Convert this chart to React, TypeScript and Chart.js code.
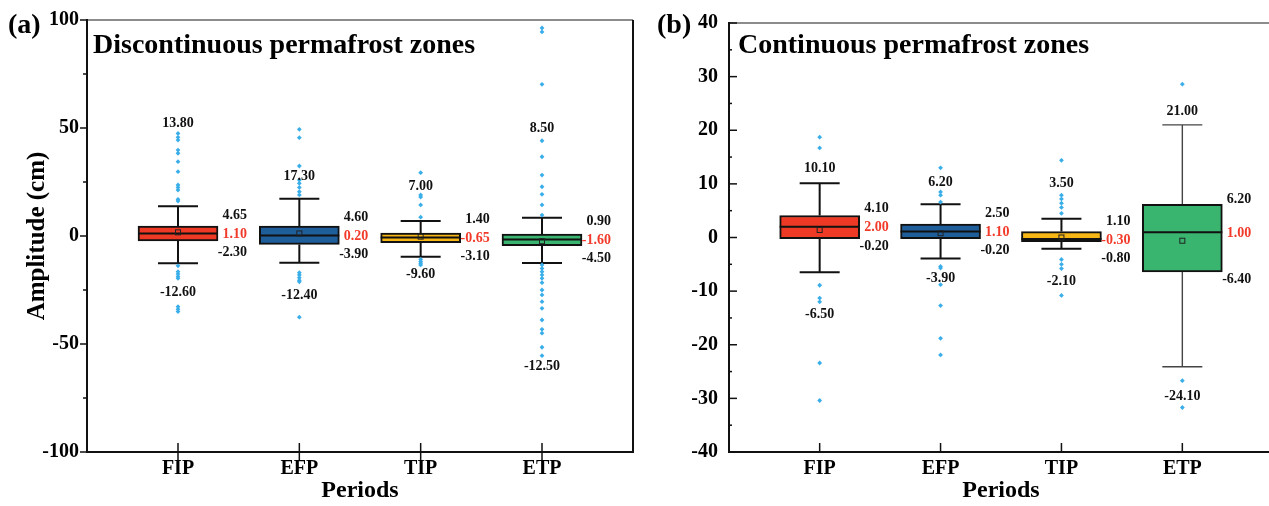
import React, { useEffect, useRef } from 'react';
import { Chart, registerables } from 'chart.js';

Chart.register(...registerables);

const SERIF = '"Liberation Serif", "Times New Roman", Times, serif';

// ---------- shared ----------
const categories = ['FIP', 'EFP', 'TIP', 'ETP'];
const boxColors = ['#EE3A24', '#1E5E9B', '#F6B716', '#39B56F'];
const outlierColor = '#3AAEE8';

// ---------- panel (a): discontinuous permafrost zones ----------
const aMin = [-12.6, -12.4, -9.6, -12.5];
const aQ1 = [-2.3, -3.9, -3.1, -4.5];
const aMedian = [1.1, 0.2, -0.65, -1.6];
const aQ3 = [4.65, 4.6, 1.4, 0.9];
const aMax = [13.8, 17.3, 7.0, 8.5];
const aMean = [1.7, 1.2, -0.3, -2.4];
const aOutFIP = [47.5, 45.7, 44.4, 39.8, 38.3, 34.4, 29.8, 23.6, 22.5, 21.3, 17.0, 16.2, -13.8, -16.5, -17.6, -18.8, -19.6, -32.7, -33.9, -35.0];
const aOutEFP = [49.4, 45.5, 32.4, 25.9, 24.4, 22.5, 20.5, 19.0, -17.0, -18.0, -19.3, -20.5, -21.2, -37.6];
const aOutTIP = [29.3, 19.0, 18.0, 14.4, 8.7, -10.8, -11.8, -12.6, -13.4];
const aOutETP = [96.3, 94.5, 70.2, 44.1, 36.7, 28.2, 22.8, 19.3, 14.4, 9.7, -13.4, -15.0, -16.5, -18.0, -19.6, -21.6, -25.0, -27.3, -30.4, -33.5, -38.9, -43.2, -45.0, -51.5, -55.4];
const aTopLabelAt = [52, 27.8, 23, 50];
const aBottomLabelAt = [-26, -27.3, -18, -60.5];

// ---------- panel (b): continuous permafrost zones ----------
const bMin = [-6.5, -3.9, -2.1, -24.1];
const bQ1 = [-0.2, -0.2, -0.8, -6.4];
const bMedian = [2.0, 1.1, -0.3, 1.0];
const bQ3 = [4.1, 2.5, 1.1, 6.2];
const bMax = [10.1, 6.2, 3.5, 21.0];
const bMean = [1.4, 0.8, 0.0, -0.6];
const bOutFIP = [18.7, 16.7, -8.9, -11.3, -12.0, -23.4, -30.4];
const bOutEFP = [13.0, 8.5, 7.9, 6.6, -5.4, -5.7, -8.8, -12.7, -18.8, -21.9];
const bOutTIP = [14.4, 7.9, 7.2, 6.4, 5.6, 4.5, -4.1, -5.0, -5.8, -10.8];
const bOutETP = [28.6, -26.7, -31.7];
const bTopLabelAt = [12.9, 10.2, 10.1, 23.6];
const bBottomLabelAt = [-14.3, -7.6, -8.1, -29.6];

type Spec = {
  key: string;
  letter: string;
  title: string;
  letterX: number;
  titleX: number;
  yMin: number;
  yMax: number;
  yStep: number;
  yLabelEvery: number;
  yTitle: string | null;
  yTickPad: number;
  yTicksInward: boolean;
  xTicksOut: boolean;
  min: number[];
  q1: number[];
  median: number[];
  q3: number[];
  max: number[];
  mean: number[];
  outliers: number[][];
  topLabelAt: number[];
  bottomLabelAt: number[];
  whiskerWidth: number[];
  whiskerColor: string[];
};

const specA: Spec = {
  key: 'a',
  letter: '(a)',
  title: 'Discontinuous permafrost zones',
  letterX: 8,
  titleX: 93,
  yMin: -100,
  yMax: 100,
  yStep: 25,
  yLabelEvery: 50,
  yTitle: 'Amplitude (cm)',
  yTickPad: 8,
  yTicksInward: false,
  xTicksOut: true,
  min: aMin,
  q1: aQ1,
  median: aMedian,
  q3: aQ3,
  max: aMax,
  mean: aMean,
  outliers: [aOutFIP, aOutEFP, aOutTIP, aOutETP],
  topLabelAt: aTopLabelAt,
  bottomLabelAt: aBottomLabelAt,
  whiskerWidth: [2, 2, 2, 2],
  whiskerColor: ['#111', '#111', '#111', '#111'],
};

const specB: Spec = {
  key: 'b',
  letter: '(b)',
  title: 'Continuous permafrost zones',
  letterX: 17,
  titleX: 98,
  yMin: -40,
  yMax: 40,
  yStep: 5,
  yLabelEvery: 10,
  yTitle: null,
  yTickPad: 11,
  yTicksInward: true,
  xTicksOut: false,
  min: bMin,
  q1: bQ1,
  median: bMedian,
  q3: bQ3,
  max: bMax,
  mean: bMean,
  outliers: [bOutFIP, bOutEFP, bOutTIP, bOutETP],
  topLabelAt: bTopLabelAt,
  bottomLabelAt: bBottomLabelAt,
  whiskerWidth: [2, 2, 2, 1.4],
  whiskerColor: ['#111', '#111', '#111', '#444'],
};

const fmt = (v: number) => v.toFixed(2);

function makePlugin(s: Spec) {
  return {
    id: 'boxplot_' + s.key,
    beforeDatasetsDraw(chart: any) {
      const { ctx } = chart;
      const xs = chart.scales.x;
      const ys = chart.scales.y;
      const bars = chart.getDatasetMeta(0).data;
      ctx.save();
      s.min.forEach((mn, i) => {
        const cx = xs.getPixelForValue(i + 1);
        const half = (bars[i]?.width ?? 80) / 2;
        const capHalf = half / 2;
        ctx.strokeStyle = s.whiskerColor[i];
        ctx.lineWidth = s.whiskerWidth[i];
        ctx.beginPath();
        ctx.moveTo(cx, ys.getPixelForValue(s.q3[i]));
        ctx.lineTo(cx, ys.getPixelForValue(s.max[i]));
        ctx.moveTo(cx, ys.getPixelForValue(s.q1[i]));
        ctx.lineTo(cx, ys.getPixelForValue(mn));
        const ty = ys.getPixelForValue(s.max[i]);
        const by = ys.getPixelForValue(mn);
        ctx.moveTo(cx - capHalf, ty);
        ctx.lineTo(cx + capHalf, ty);
        ctx.moveTo(cx - capHalf, by);
        ctx.lineTo(cx + capHalf, by);
        ctx.stroke();
      });
      ctx.restore();
    },
    afterDatasetsDraw(chart: any) {
      const { ctx } = chart;
      const xs = chart.scales.x;
      const ys = chart.scales.y;
      const bars = chart.getDatasetMeta(0).data;
      ctx.save();
      s.median.forEach((md, i) => {
        const cx = xs.getPixelForValue(i + 1);
        const half = (bars[i]?.width ?? 80) / 2;
        const mp = ys.getPixelForValue(md);
        const q3p = ys.getPixelForValue(s.q3[i]);
        const q1p = ys.getPixelForValue(s.q1[i]);
        // median line
        ctx.strokeStyle = '#111';
        ctx.lineWidth = 2;
        ctx.beginPath();
        ctx.moveTo(cx - half, mp);
        ctx.lineTo(cx + half, mp);
        ctx.stroke();
        // mean marker
        const meanP = ys.getPixelForValue(s.mean[i]);
        ctx.lineWidth = 1;
        ctx.strokeStyle = '#222';
        ctx.strokeRect(cx - 2.5, meanP - 2.5, 5, 5);
        // labels
        ctx.font = `bold 14px ${SERIF}`;
        ctx.textBaseline = 'middle';
        ctx.fillStyle = '#111';
        ctx.textAlign = 'center';
        ctx.fillText(fmt(s.max[i]), cx, ys.getPixelForValue(s.topLabelAt[i]));
        ctx.fillText(fmt(s.min[i]), cx, ys.getPixelForValue(s.bottomLabelAt[i]));
        const rx = cx + half + 29;
        ctx.textAlign = 'right';
        ctx.fillText(fmt(s.q3[i]), rx, Math.min(q3p - 5, mp - 18));
        ctx.fillText(fmt(s.q1[i]), rx, Math.max(q1p + 8, mp + 19));
        ctx.fillStyle = '#F23A2A';
        ctx.fillText(fmt(md), rx, mp + 1);
      });
      ctx.restore();
    },
    afterDraw(chart: any) {
      const { ctx, chartArea } = chart;
      const { left, right, top, bottom } = chartArea;
      const xs = chart.scales.x;
      const ys = chart.scales.y;
      ctx.save();
      // frame
      ctx.lineWidth = 1.5;
      ctx.strokeStyle = '#666';
      ctx.beginPath();
      ctx.moveTo(left, top);
      ctx.lineTo(right, top);
      ctx.stroke();
      ctx.strokeStyle = '#111';
      ctx.lineWidth = 2;
      ctx.beginPath();
      ctx.moveTo(right, top);
      ctx.lineTo(right, bottom);
      ctx.moveTo(left, top - 1);
      ctx.lineTo(left, bottom + 1);
      ctx.moveTo(left - 1, bottom);
      ctx.lineTo(right + 1, bottom);
      ctx.stroke();
      // y tick marks
      ctx.lineWidth = 1.5;
      ys.ticks.forEach((t: any) => {
        const py = ys.getPixelForValue(t.value);
        const major = Math.abs(t.value % s.yLabelEvery) < 1e-9;
        ctx.beginPath();
        if (s.yTicksInward) {
          ctx.moveTo(left, py);
          ctx.lineTo(left + (major ? 8 : 3), py);
        } else {
          ctx.moveTo(left - (major ? 7 : 4), py);
          ctx.lineTo(left, py);
        }
        ctx.stroke();
      });
      // x tick marks
      xs.ticks.forEach((t: any) => {
        const px = xs.getPixelForValue(t.value);
        ctx.beginPath();
        ctx.moveTo(px, bottom - 9);
        ctx.lineTo(px, s.xTicksOut ? bottom + 8 : bottom);
        ctx.stroke();
      });
      // panel letter and title
      ctx.fillStyle = '#000';
      ctx.textBaseline = 'alphabetic';
      ctx.textAlign = 'left';
      ctx.font = `bold 28px ${SERIF}`;
      ctx.fillText(s.letter, s.letterX, 33);
      ctx.fillText(s.title, s.titleX, 53);
      ctx.restore();
    },
  };
}

function makeConfig(s: Spec): any {
  const outlierPts = categories.flatMap((_, i) => s.outliers[i].map((v) => ({ x: i + 1, y: v })));
  const tickFont = { family: SERIF, size: 20, weight: 'bold' as const };
  return {
    type: 'bar',
    data: {
      datasets: [
        {
          type: 'bar',
          data: categories.map((_, i) => ({ x: i + 1, y: [s.q1[i], s.q3[i]] })),
          backgroundColor: boxColors,
          borderColor: '#111',
          borderWidth: 2,
          borderSkipped: false,
          barThickness: 80,
          order: 2,
        },
        {
          type: 'scatter',
          data: outlierPts,
          pointStyle: 'rectRot',
          radius: 2.4,
          backgroundColor: outlierColor,
          borderColor: outlierColor,
          borderWidth: 0,
          order: 1,
        },
      ],
    },
    options: {
      responsive: false,
      animation: false,
      events: [],
      layout: { padding: { top: 20, right: 7, left: 0, bottom: 0 } },
      plugins: { legend: { display: false }, tooltip: { enabled: false }, title: { display: false } },
      scales: {
        x: {
          type: 'linear',
          min: 0.25,
          max: 4.75,
          offset: false,
          grid: { display: false, drawTicks: false },
          border: { display: false },
          afterBuildTicks: (sc: any) => {
            sc.ticks = categories.map((_, i) => ({ value: i + 1 }));
          },
          afterFit: (sc: any) => {
            sc.height = 54;
          },
          ticks: {
            callback: (v: number) => categories[Math.round(v) - 1] ?? '',
            font: tickFont,
            color: '#000',
            padding: 5,
            maxRotation: 0,
            autoSkip: false,
          },
          title: {
            display: true,
            text: 'Periods',
            color: '#000',
            font: { family: SERIF, size: 24, weight: 'bold', lineHeight: 1 },
            padding: { top: 0, bottom: 3 },
          },
        },
        y: {
          type: 'linear',
          min: s.yMin,
          max: s.yMax,
          grid: { display: false, drawTicks: false },
          border: { display: false },
          afterFit: (sc: any) => {
            sc.width = s.key === 'a' ? 87 : 89;
          },
          ticks: {
            stepSize: s.yStep,
            autoSkip: false,
            callback: (v: number) => (Math.abs(v % s.yLabelEvery) < 1e-9 ? String(v) : ''),
            font: tickFont,
            color: '#000',
            padding: s.yTickPad,
          },
          title: {
            display: !!s.yTitle,
            text: s.yTitle ?? '',
            color: '#000',
            font: { family: SERIF, size: 25, weight: 'bold', lineHeight: 1 },
            padding: { top: 25, bottom: 0 },
          },
        },
      },
    },
    plugins: [makePlugin(s)],
  };
}

function Panel({ spec, left }: { spec: Spec; left: number }) {
  const ref = useRef<HTMLCanvasElement | null>(null);
  useEffect(() => {
    if (!ref.current) return;
    const chart = new Chart(ref.current, makeConfig(spec));
    return () => chart.destroy();
  }, [spec]);
  return (
    <div style={{ position: 'absolute', left, top: 0, width: 640, height: 506 }}>
      <canvas ref={ref} width={640} height={506} style={{ width: 640, height: 506, display: 'block' }} />
    </div>
  );
}

export default function App() {
  return (
    <div
      style={{
        position: 'absolute',
        left: 0,
        top: 0,
        width: 1269,
        height: 506,
        overflow: 'hidden',
        background: '#fff',
      }}
    >
      <Panel spec={specA} left={0} />
      <Panel spec={specB} left={640} />
    </div>
  );
}
